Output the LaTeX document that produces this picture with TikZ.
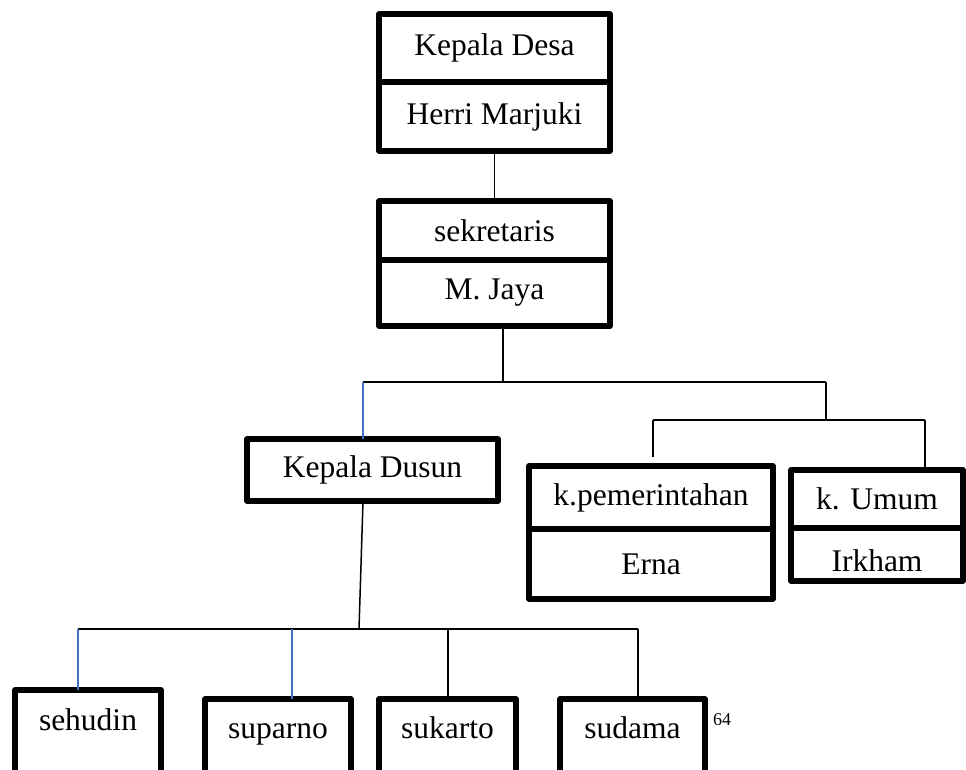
\documentclass[tikz,border=0pt]{standalone}
\usepackage{fontspec}
\setmainfont{Liberation Serif}
\definecolor{lineblue}{RGB}{68,114,196}
\begin{document}
\begin{tikzpicture}[x=1pt,y=-1pt,
  cell/.style={draw=black, line width=5.5pt, rectangle, inner sep=0pt, outer sep=0pt,
    line join=round, font=\fontsize{31.5}{37}\selectfont},
  lbl/.style={inner sep=0pt, anchor=base, font=\fontsize{31.5}{37}\selectfont},
  conn/.style={draw=black, line width=1.5pt},
  bconn/.style={draw=lineblue, line width=1.5pt}]
\useasboundingbox (0,0) rectangle (966,769);
\clip (0,0) rectangle (966,769);
% Kepala Desa
\node[cell, minimum width=231pt, minimum height=68pt] (desaT) at (494.5,48) {Kepala Desa};
\node[cell, minimum width=231pt, minimum height=69pt] (desaB) at (494.5,116.5) {Herri Marjuki};
% sekretaris
\node[cell, minimum width=231pt, minimum height=59pt] (sekT) at (494.5,230.5) {sekretaris};
\node[cell, minimum width=231pt, minimum height=66pt] (sekB) at (494.5,293) {M. Jaya};
% Kepala Dusun
\node[cell, minimum width=251pt, minimum height=62pt] (dusun) at (372.5,470) {Kepala Dusun};
% k.pemerintahan
\node[cell, minimum width=244pt, minimum height=63pt] (pemT) at (651,497.5) {k.pemerintahan};
\node[cell, minimum width=244pt, minimum height=70pt] (pemB) at (651,564) {Erna};
% k. Umum
\node[cell, minimum width=172pt, minimum height=58pt] (umumT) at (877,499) {k. Umum};
\node[cell, minimum width=172pt, minimum height=53pt] (umumB) at (877,554.5) {};
\node[inner sep=0pt, font=\fontsize{31.5}{37}\selectfont] (irkham) at (877,561) {Irkham};
% bottom row (cut off by the page edge)
\node[cell, minimum width=146pt, minimum height=120pt, anchor=north] (sehudin) at (88,690) {};
\node[cell, minimum width=146pt, minimum height=120pt, anchor=north] (suparno) at (278,699) {};
\node[cell, minimum width=137pt, minimum height=120pt, anchor=north] (sukarto) at (447.5,699) {};
\node[cell, minimum width=145pt, minimum height=120pt, anchor=north] (sudama) at (632.5,699) {};
\node[lbl] (sehudinT) at (88,730.5) {sehudin};
\node[lbl] (suparnoT) at (278,738) {suparno};
\node[lbl] (sukartoT) at (447.5,738) {sukarto};
\node[lbl] (sudamaT) at (632.5,738) {sudama};
\node[inner sep=0pt, anchor=base, font=\fontsize{18}{21}\selectfont] (pagenum) at (722,725) {64};
% coordinates of connector corners
\coordinate (jA) at (503,382);
\coordinate (hL) at (363,382);
\coordinate (hR) at (826,382);
\coordinate (kA) at (826,420);
\coordinate (kL) at (653,420);
\coordinate (kR) at (925,420);
\coordinate (kLend) at (653,457);
\coordinate (dA) at (359,629);
\coordinate (bL) at (78,629);
\coordinate (bM) at (292,629);
\coordinate (bS) at (448,629);
\coordinate (bR) at (638,629);
% connectors
\draw[conn] (desaB.south) -- (desaB.south |- sekT.north);
\draw[conn] (sekB.south -| jA) -- (jA);
\draw[conn] (hL) -- (hR);
\draw[bconn] (hL) -- (hL |- dusun.north);
\draw[conn] (hR) -- (kA);
\draw[conn] (kL) -- (kR);
\draw[conn] (kL) -- (kLend);
\draw[conn] (kR) -- (kR |- umumT.north);
\draw[conn] (dusun.south -| hL) -- (dA);
\draw[conn] (bL) -- (bR);
\draw[bconn] (bL) -- (bL |- sehudin.north);
\draw[bconn] (bM) -- (bM |- suparno.north);
\draw[conn] (bS) -- (bS |- sukarto.north);
\draw[conn] (bR) -- (bR |- sudama.north);
\end{tikzpicture}
\end{document}
